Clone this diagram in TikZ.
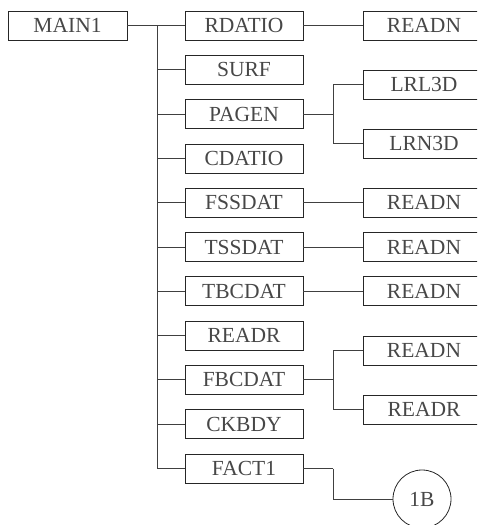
\documentclass[tikz,border=0pt]{standalone}
\usepackage{fontspec}
\setmainfont{Liberation Serif}
\begin{document}
\begin{tikzpicture}[x=1pt,y=-1pt,
  every node/.style={font=\fontsize{21.5}{23}\selectfont, text=black!72},
  box/.style={draw=black!85, line width=0.8pt, rectangle, minimum width=118pt, minimum height=29pt, inner sep=0pt},
  rbox/.style={box, minimum width=122pt},
  circ/.style={draw=black!85, line width=0.8pt, circle, minimum size=58pt, inner sep=0pt},
  link/.style={draw=black!75, line width=0.9pt}]
\useasboundingbox (0,0) rectangle (477,525);
\clip (0,0) rectangle (477,525);
\node[box, minimum width=119pt] (main) at (67.5,25.5) {MAIN1};
\node[box] (rdatio) at (244,25.5) {RDATIO};
\node[box] (surf) at (244,69.8) {SURF};
\node[box] (pagen) at (244,114.1) {PAGEN};
\node[box] (cdatio) at (244,158.4) {CDATIO};
\node[box] (fssdat) at (244,202.7) {FSSDAT};
\node[box] (tssdat) at (244,247) {TSSDAT};
\node[box] (tbcdat) at (244,291.3) {TBCDAT};
\node[box] (readr) at (244,335.6) {READR};
\node[box] (fbcdat) at (244,379.9) {FBCDAT};
\node[box] (ckbdy) at (244,424.2) {CKBDY};
\node[box] (fact) at (244,468.5) {FACT1};
\node[rbox] (r1) at (424,25.5) {READN};
\node[rbox] (lrl) at (424,84.5) {LRL3D};
\node[rbox] (lrn) at (424,143.5) {LRN3D};
\node[rbox] (r2) at (424,202.7) {READN};
\node[rbox] (r3) at (424,247) {READN};
\node[rbox] (r4) at (424,291.3) {READN};
\node[rbox] (r5) at (424,350.5) {READN};
\node[rbox] (r6) at (424,409.5) {READR};
\node[circ] (b1) at (422,499) {1B};
\coordinate (t) at (157,25.5);
\coordinate (p) at (333,114.1);
\coordinate (f) at (333,379.9);
\coordinate (g) at (333,468.5);
\draw[link] (main.east) -- (rdatio.west);
\draw[link] (t) |- (surf.west);
\draw[link] (t) |- (pagen.west);
\draw[link] (t) |- (cdatio.west);
\draw[link] (t) |- (fssdat.west);
\draw[link] (t) |- (tssdat.west);
\draw[link] (t) |- (tbcdat.west);
\draw[link] (t) |- (readr.west);
\draw[link] (t) |- (fbcdat.west);
\draw[link] (t) |- (ckbdy.west);
\draw[link] (t) |- (fact.west);
\draw[link] (rdatio.east) -- (r1.west);
\draw[link] (pagen.east) -- (p);
\draw[link] (p) |- (lrl.west);
\draw[link] (p) |- (lrn.west);
\draw[link] (fssdat.east) -- (r2.west);
\draw[link] (tssdat.east) -- (r3.west);
\draw[link] (tbcdat.east) -- (r4.west);
\draw[link] (fbcdat.east) -- (f);
\draw[link] (f) |- (r5.west);
\draw[link] (f) |- (r6.west);
\draw[link] (fact.east) -- (g);
\draw[link] (g) |- (b1.west);
\end{tikzpicture}
\end{document}
